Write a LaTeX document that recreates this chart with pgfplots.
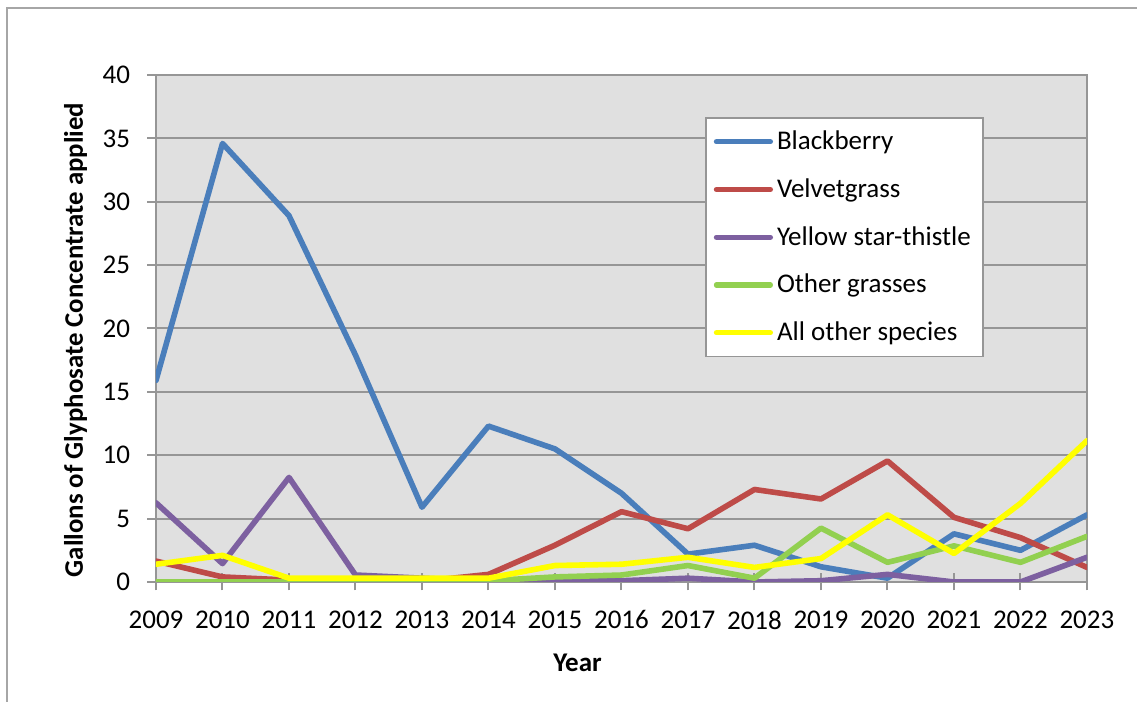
\documentclass[border=0pt]{standalone}
\usepackage{fontspec}
\setmainfont{Carlito}
\usepackage{pgfplots}
\pgfplotsset{compat=1.18}

\definecolor{cBlack}{HTML}{4A7EBB}
\definecolor{cVelvet}{HTML}{BE4B48}
\definecolor{cStar}{HTML}{7D60A0}
\definecolor{cGrass}{HTML}{92D050}
\definecolor{cOther}{HTML}{FFFF00}
\definecolor{gridgray}{HTML}{969696}
\definecolor{bggray}{HTML}{E0E0E0}

\begin{document}
\begin{tikzpicture}
\begin{axis}[
    scale only axis,
    width=465.5pt, height=253.5pt,
    xmin=2009, xmax=2023,
    ymin=0, ymax=40,
    xtick={2009,...,2023},
    ytick={0,5,...,40},
    xtick pos=bottom, ytick pos=left,
    /pgf/number format/assume math mode=true,
    x tick label style={/pgf/number format/1000 sep={}, yshift=-6.5pt},
    y tick label style={xshift=-1pt},
    tick label style={font=\fontsize{13.5}{16}\selectfont},
    axis background/.style={fill=bggray},
    axis line style={gridgray, line width=1pt},
    ymajorgrids,
    major grid style={gridgray, line width=1pt},
    major tick style={gridgray, line width=1pt},
    xtick align=center, ytick align=outside,
    major tick length=8.5pt,
    ytick style={/pgfplots/major tick length=4.5pt},
    legend style={at={(0.5897,0.917)}, anchor=north west,
        draw=gridgray, line width=0.8pt, fill=white,
        font=\fontsize{13.5}{16}\selectfont,
        row sep=9pt, inner xsep=4pt, inner ysep=4.5pt,
        nodes={inner xsep=2pt}},
    legend cell align=left,
    legend image code/.code={\draw[#1, line width=2.6pt, line cap=round] (0pt,0pt) -- (27pt,0pt);},
    every axis plot/.append style={line width=2.8pt, line join=round, line cap=round},
]
\addplot[cBlack] coordinates {
(2009,15.9) (2010,34.6) (2011,28.9) (2012,17.9) (2013,5.9) (2014,12.3) (2015,10.5)
(2016,7.0) (2017,2.2) (2018,2.9) (2019,1.2) (2020,0.3) (2021,3.8) (2022,2.5) (2023,5.3)};
\addlegendentry{Blackberry}
\addplot[cVelvet] coordinates {
(2009,1.65) (2010,0.4) (2011,0.15) (2012,0.1) (2013,0.05) (2014,0.6) (2015,2.9)
(2016,5.55) (2017,4.2) (2018,7.3) (2019,6.55) (2020,9.55) (2021,5.1) (2022,3.5) (2023,1.15)};
\addlegendentry{Velvetgrass}
\addplot[cStar] coordinates {
(2009,6.25) (2010,1.45) (2011,8.25) (2012,0.55) (2013,0.3) (2014,0.05) (2015,0.05)
(2016,0.1) (2017,0.3) (2018,0.0) (2019,0.1) (2020,0.6) (2021,0.0) (2022,0.0) (2023,1.95)};
\addlegendentry{Yellow star-thistle}
\addplot[cGrass] coordinates {
(2009,0) (2010,0) (2011,0) (2012,0) (2013,0) (2014,0.1) (2015,0.4)
(2016,0.55) (2017,1.3) (2018,0.3) (2019,4.25) (2020,1.55) (2021,2.85) (2022,1.55) (2023,3.6)};
\addlegendentry{Other grasses}
\addplot[cOther] coordinates {
(2009,1.4) (2010,2.1) (2011,0.3) (2012,0.3) (2013,0.3) (2014,0.3) (2015,1.3)
(2016,1.4) (2017,1.95) (2018,1.15) (2019,1.85) (2020,5.3) (2021,2.25) (2022,6.2) (2023,11.15)};
\addlegendentry{All other species}
\end{axis}
% axis titles
\node[font=\fontsize{13.5}{16}\selectfont\bfseries] at (210.75pt,-40.5pt) {Year};
\node[font=\fontsize{13.4}{16}\selectfont\bfseries, rotate=90] at (-40.25pt,121pt)
    {Gallons of Glyphosate Concentrate applied};
% outer chart frame
\draw[gridgray!85, line width=0.8pt] (-74.5pt,-80pt) -- (-74.5pt,287pt) -- (520pt,287pt);
\pgfresetboundingbox
\useasboundingbox (-78pt,-60pt) rectangle (490.5pt,291pt);
\end{tikzpicture}
\end{document}
